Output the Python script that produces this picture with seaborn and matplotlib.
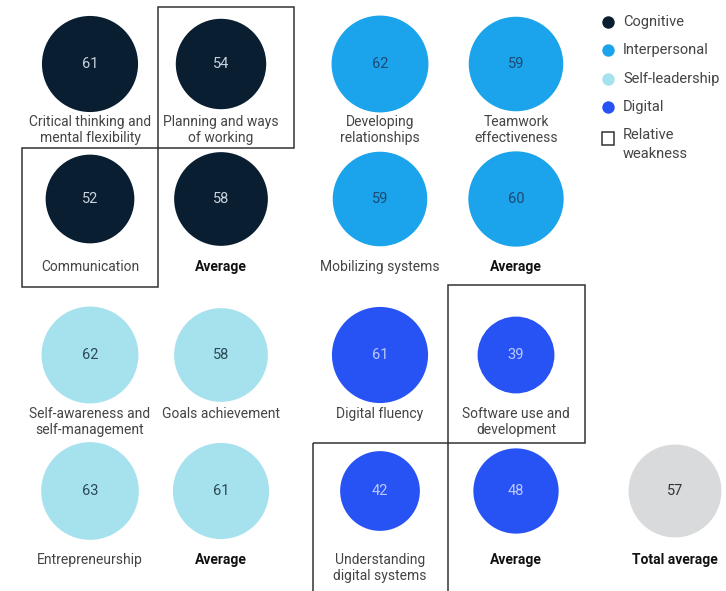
import matplotlib
matplotlib.use("Agg")
import matplotlib.pyplot as plt
import matplotlib.patches as mpatches
import seaborn as sns
import pandas as pd

# ---------------- data ----------------
groups = ["Cognitive", "Interpersonal", "Self-leadership", "Digital"]
cognitive_skills = ["Critical thinking and\nmental flexibility", "Planning and ways\nof working", "Communication", "Average"]
cognitive_values = [61, 54, 52, 58]
cognitive_weak = [False, True, True, False]
interpersonal_skills = ["Developing\nrelationships", "Teamwork\neffectiveness", "Mobilizing systems", "Average"]
interpersonal_values = [62, 59, 59, 60]
interpersonal_weak = [False, False, False, False]
selfleadership_skills = ["Self-awareness and\nself-management", "Goals achievement", "Entrepreneurship", "Average"]
selfleadership_values = [62, 58, 63, 61]
selfleadership_weak = [False, False, False, False]
digital_skills = ["Digital fluency", "Software use and\ndevelopment", "Understanding\ndigital systems", "Average"]
digital_values = [61, 39, 42, 48]
digital_weak = [False, True, True, False]
total_label = "Total average"
total_value = 57

# ---------------- style ----------------
colors = {"Cognitive": "#0A1E32", "Interpersonal": "#1BA3EC",
          "Self-leadership": "#A6E1EE", "Digital": "#2752F4", "Total": "#D9DADB"}
num_colors = {"Cognitive": "#C9D3DE", "Interpersonal": "#1D4A72",
              "Self-leadership": "#2C4A55", "Digital": "#BCC9FF", "Total": "#333333"}

# layout (pixel coordinates)
W, H = 726, 591
col_x = [90, 221, 380, 516]
row_y = [64, 199, 355, 491]
label_y = [115, 260, 407, 553]      # top of label text
cell_left = [22, 158, 313, 448]
cell_right = [158, 294, 448, 585]
row_top = [7, 148, 285, 443]
row_bot = [148, 287, 443, 600]
block_pos = {"Cognitive": (0, 0), "Interpersonal": (1, 0),
             "Self-leadership": (0, 1), "Digital": (1, 1)}
total_pos = (675, 491, 553)

area_per_unit = 78.5  # marker area in pt^2 per value unit

sets = {"Cognitive": (cognitive_skills, cognitive_values, cognitive_weak),
        "Interpersonal": (interpersonal_skills, interpersonal_values, interpersonal_weak),
        "Self-leadership": (selfleadership_skills, selfleadership_values, selfleadership_weak),
        "Digital": (digital_skills, digital_values, digital_weak)}

rows = []
for g in groups:
    skills, vals, weak = sets[g]
    bx, by = block_pos[g]
    for i, (s, v, w) in enumerate(zip(skills, vals, weak)):
        c = bx * 2 + i % 2
        r = by * 2 + i // 2
        rows.append(dict(group=g, skill=s, value=v, weak=w, col=c, row=r,
                         x=col_x[c], y=row_y[r]))
df = pd.DataFrame(rows)
df_total = pd.DataFrame([dict(group="Total", skill=total_label, value=total_value,
                              x=total_pos[0], y=total_pos[1])])
df_all = pd.concat([df, df_total], ignore_index=True)

sns.set_theme(style="white")
plt.rcParams["font.family"] = ["Roboto", "DejaVu Sans"]

fig = plt.figure(figsize=(W / 100, H / 100), dpi=100)
ax = fig.add_axes([0, 0, 1, 1])
ax.set_xlim(0, W)
ax.set_ylim(H, 0)
ax.axis("off")

sns.scatterplot(data=df_all, x="x", y="y", hue="group", palette=colors,
                size="value", sizes=(0, 70 * area_per_unit), size_norm=(0, 70),
                linewidth=0, legend=False, ax=ax, zorder=2)

for _, r in df_all.iterrows():
    ax.text(r.x, r.y, str(r.value), ha="center", va="center", fontsize=10.5,
            color=num_colors[r.group], zorder=3)

for _, r in df.iterrows():
    bold = r.skill == "Average"
    ax.text(r.x, label_y[r.row], r.skill, ha="center", va="top", fontsize=10,
            linespacing=1.15, color="#111111" if bold else "#444444",
            fontweight="bold" if bold else "normal", zorder=3)
    if r.weak:
        c, rr = r.col, r.row
        ax.add_patch(mpatches.Rectangle((cell_left[c], row_top[rr]),
                                        cell_right[c] - cell_left[c],
                                        row_bot[rr] - row_top[rr],
                                        fill=False, edgecolor="#333333", lw=1.1, zorder=1,
                                        clip_on=False))
ax.text(total_pos[0], total_pos[2], total_label, ha="center", va="top", fontsize=10,
        color="#111111", fontweight="bold")

# legend
leg_x, leg_tx = 608, 623
leg_y = [22, 50, 79, 107]
for g, yy in zip(groups, leg_y):
    ax.scatter([leg_x], [yy], s=80, color=colors[g], linewidth=0)
    ax.text(leg_tx, yy, g, ha="left", va="center", fontsize=10.5, color="#444444")
ax.add_patch(mpatches.Rectangle((602, 132), 12, 13, fill=False, edgecolor="#333333", lw=1.1))
ax.text(leg_tx, 128, "Relative\nweakness", ha="left", va="top", fontsize=10.5,
        linespacing=1.45, color="#444444")

fig.savefig("out.png", dpi=100)
